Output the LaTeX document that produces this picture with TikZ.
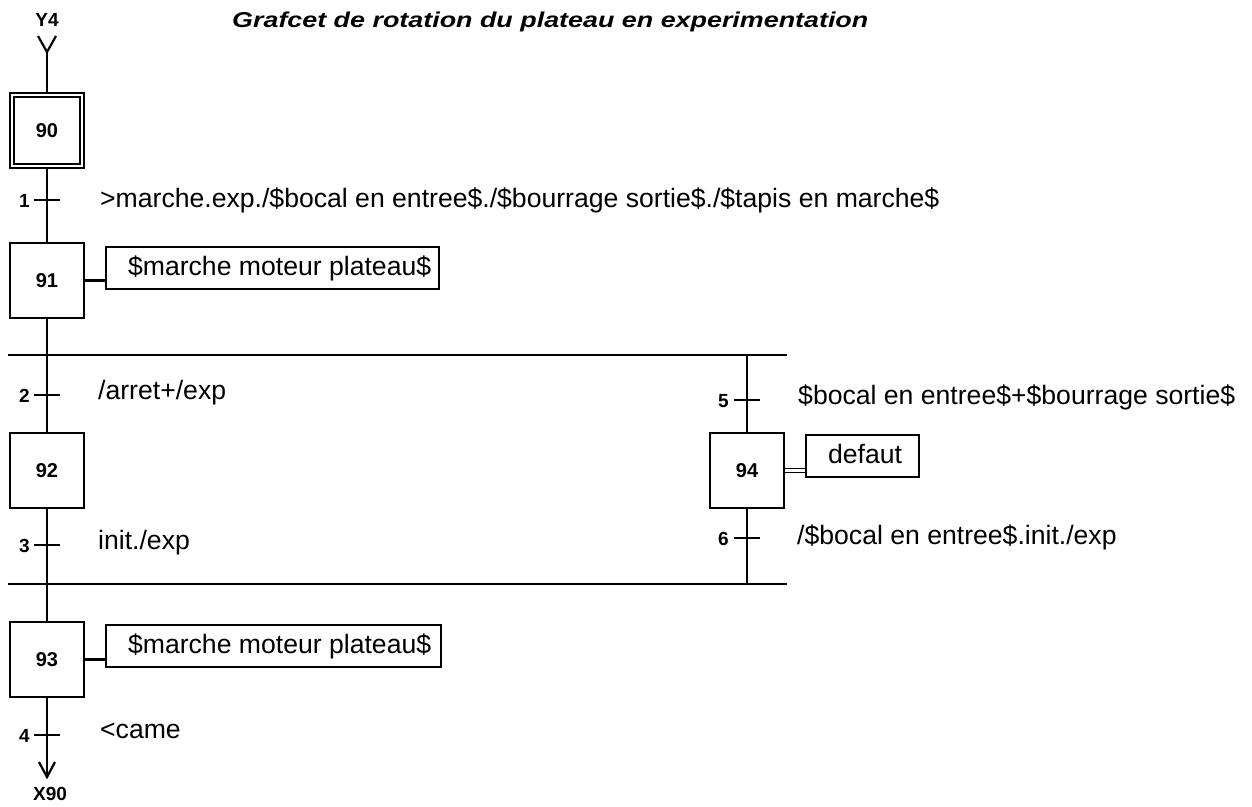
\documentclass[tikz,border=0pt]{standalone}
\usepackage{fontspec}
\setmainfont{Liberation Sans}
\begin{document}
\begin{tikzpicture}[x=1pt,y=-1pt,
  ln/.style={line width=2.2pt},
  tk/.style={line width=1.8pt},
  stepbox/.style={draw, line width=2.2pt, minimum width=74pt, minimum height=75pt, inner sep=0pt, font=\fontsize{20}{24}\selectfont\bfseries},
  actbox/.style={draw, line width=2.2pt, anchor=north west, inner xsep=22pt, inner ysep=0pt, text height=28pt, text depth=14pt, font=\fontsize{26.6}{30}\selectfont},
  tnum/.style={anchor=base east, inner sep=0pt, font=\fontsize{19}{22}\selectfont\bfseries},
  ttext/.style={anchor=base west, inner sep=0pt, font=\fontsize{26.6}{30}\selectfont},
  io/.style={anchor=base, inner sep=0pt, font=\fontsize{19}{22}\selectfont\bfseries},
]
\useasboundingbox (0,0) rectangle (1252,806);

% title
\node[anchor=base west, inner sep=0pt, font=\fontsize{21.5}{24}\selectfont\bfseries\itshape] (title) at (232,27) {\scalebox{1.25}[1]{Grafcet de rotation du plateau en experimentation}};

% input / output
\node[io] (y4) at (47,26) {Y4};
\coordinate (in) at (47,52);
\coordinate (out) at (47,777);
\node[io] (x90) at (50,800) {X90};

% steps
\node[stepbox] (s90) at (47,130.5) {90};
\draw[line width=1.3pt] ([shift={(5,5)}]s90.north west) rectangle ([shift={(-5,-5)}]s90.south east);
\node[stepbox] (s91) at (47,280.5) {91};
\node[stepbox] (s92) at (47,470.5) {92};
\node[stepbox] (s93) at (47,659.5) {93};
\node[stepbox] (s94) at (747,470.5) {94};

% actions
\node[actbox, minimum width=333pt] (a91) at (105,246) {\makebox[289pt][l]{\$marche moteur plateau\$}};
\node[actbox, minimum width=335pt] (a93) at (105,624) {\makebox[291pt][l]{\$marche moteur plateau\$}};
\node[actbox, minimum width=113pt] (a94) at (805,434) {\makebox[69pt][l]{defaut}};

\draw[ln] (s91.east) -- (s91.east -| a91.west);
\draw[ln] (s93.east) -- (s93.east -| a93.west);
\draw[line width=0.9pt, double, double distance=2.5pt] (s94.east) -- (s94.east -| a94.west);

% divergence / convergence
\coordinate (dL) at (8,355);
\coordinate (dR) at (787,355);
\coordinate (cL) at (8,584);
\coordinate (cR) at (787,584);
\draw[ln] (dL) -- (dR);
\draw[ln] (cL) -- (cR);

% links
\draw[ln] ([shift={(-9,-16)}]in) -- (in) -- ([shift={(9,-16)}]in);
\draw[ln] (in) -- (s90.north);
\draw[ln] (s90.south) -- (s91.north);
\draw[ln] (s91.south) -- (s92.north);
\draw[ln] (s92.south) -- (s93.north);
\draw[ln] (s93.south) -- (out);
\draw[ln] ([shift={(-8,-15)}]out) -- (out) -- ([shift={(8,-15)}]out);
\draw[ln] (s94.north |- dR) -- (s94.north);
\draw[ln] (s94.south) -- (s94.south |- cR);

% transitions
\coordinate (t1) at (47,200);
\coordinate (t2) at (47,395);
\coordinate (t3) at (47,545);
\coordinate (t4) at (47,735);
\coordinate (t5) at (747,400);
\coordinate (t6) at (747,538);
\foreach \t in {t1,t2,t3,t4,t5,t6}{
  \draw[tk] ([xshift=-13pt]\t) -- ([xshift=13pt]\t);
}

\node[tnum] (n1) at (30,207) {1};
\node[tnum] (n2) at (30,402) {2};
\node[tnum] (n3) at (30,552) {3};
\node[tnum] (n4) at (30,742) {4};
\node[tnum] (n5) at (729,407) {5};
\node[tnum] (n6) at (729,545) {6};

\node[ttext] (r1) at (100,207) {>marche.exp./\$bocal en entree\$./\$bourrage sortie\$./\$tapis en marche\$};
\node[ttext] (r2) at (98,399) {/arret+/exp};
\node[ttext] (r3) at (98,549) {init./exp};
\node[ttext] (r4) at (100,738) {<came};
\node[ttext] (r5) at (798,404) {\$bocal en entree\$+\$bourrage sortie\$};
\node[ttext] (r6) at (797,544) {/\$bocal en entree\$.init./exp};
\end{tikzpicture}
\end{document}
